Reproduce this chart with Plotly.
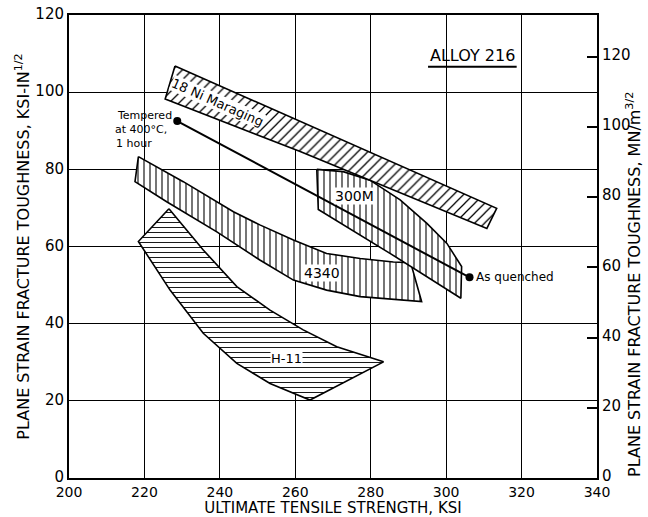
import plotly.graph_objects as go

# ---- data ----
x_ticks = [200, 220, 240, 260, 280, 300, 320, 340]
y_ticks = [0, 20, 40, 60, 80, 100, 120]
si_ticks = [0, 20, 40, 60, 80, 100, 120]
KSI_TO_SI = 1.0988  # 1 ksi*in^1/2 = 1.0988 MN/m^3/2

# 18 Ni Maraging band
mar_up_x = [228.1, 261.3, 313.4]
mar_up_y = [106.8, 92.4, 69.9]
mar_lo_x = [225.5, 261.3, 310.8]
mar_lo_y = [98.2, 84.6, 64.7]

# 300M band
m300_up_x = [265.7, 272.7, 279.8, 287.8, 294.9, 300.2, 304.1]
m300_up_y = [80.0, 79.4, 77.2, 72.1, 66.0, 60.8, 54.8]
m300_lo_x = [266.1, 285.0, 303.9]
m300_lo_y = [69.6, 58.3, 46.6]

# 4340 band
a4340_up_x = [218.4, 230.3, 243.6, 250.6, 259.5, 268.3, 277.2, 286.0, 290.6]
a4340_up_y = [83.3, 76.8, 69.0, 65.6, 61.7, 58.2, 56.9, 56.0, 55.8]
a4340_lo_x = [217.5, 225.9, 239.2, 250.6, 259.5, 268.3, 277.2, 293.5]
a4340_lo_y = [76.8, 71.6, 63.8, 56.5, 51.3, 48.7, 47.0, 45.7]

# H-11 band
h11_up_x = [226.5, 235.6, 244.5, 253.3, 262.1, 271.0, 283.4]
h11_up_y = [69.8, 59.1, 49.6, 43.5, 38.4, 34.0, 30.1]
h11_lo_x = [218.4, 226.8, 235.6, 244.5, 253.3, 263.9]
h11_lo_y = [61.3, 48.7, 37.5, 29.7, 24.5, 20.2]

# Alloy 216 line: tempered at 400 C -> as quenched
alloy_x = [228.7, 306.2]
alloy_y = [92.5, 52.0]

FONT = "DejaVu Sans"


def band(ux, uy, lx, ly, shape, size, name):
    xs = list(ux) + list(reversed(lx)) + [ux[0]]
    ys = list(uy) + list(reversed(ly)) + [uy[0]]
    return go.Scatter(
        x=xs, y=ys, mode="lines", fill="toself", name=name,
        line=dict(color="black", width=1.6),
        fillcolor="white",
        fillpattern=dict(shape=shape, fgcolor="black", bgcolor="white",
                         size=size, solidity=0.18, fillmode="replace"),
        showlegend=False, hoverinfo="skip",
    )


fig = go.Figure()
fig.add_trace(band(h11_up_x, h11_up_y, h11_lo_x, h11_lo_y, "-", 5, "H-11"))
fig.add_trace(band(a4340_up_x, a4340_up_y, a4340_lo_x, a4340_lo_y, "|", 6, "4340"))
fig.add_trace(band(m300_up_x, m300_up_y, m300_lo_x, m300_lo_y, "|", 6, "300M"))
fig.add_trace(band(mar_up_x, mar_up_y, mar_lo_x, mar_lo_y, "/", 7, "18 Ni Maraging"))
fig.add_trace(go.Scatter(
    x=alloy_x, y=alloy_y, mode="lines+markers",
    line=dict(color="black", width=2),
    marker=dict(color="black", size=8),
    showlegend=False, hoverinfo="skip",
))
# secondary (SI) axis carries the same line, converted (invisible)
fig.add_trace(go.Scatter(x=alloy_x, y=[v * KSI_TO_SI for v in alloy_y], yaxis="y2",
                         mode="lines", line=dict(color="rgba(0,0,0,0)", width=0),
                         showlegend=False, hoverinfo="skip"))

lbl_font = dict(family=FONT, size=14, color="black")
ann_font = dict(family=FONT, size=11, color="black")
annotations = [
    dict(x=239.4, y=97.3, text="18 Ni Maraging", textangle=24, showarrow=False,
         font=dict(family=FONT, size=13, color="black"), bgcolor="white", borderpad=0),
    dict(x=275.8, y=73.1, text="300M", showarrow=False, font=lbl_font,
         bgcolor="white", borderpad=0),
    dict(x=267.0, y=53.1, text="4340", showarrow=False, font=lbl_font,
         bgcolor="white", borderpad=0),
    dict(x=257.7, y=31.0, text="H-11", showarrow=False,
         font=dict(family=FONT, size=13, color="black"), bgcolor="white", borderpad=0),
    dict(x=219.9, y=94.0, text="Tempered", showarrow=False, font=ann_font),
    dict(x=219.2, y=90.3, text="at 400°C,", showarrow=False, font=ann_font),
    dict(x=217.2, y=86.6, text="1 hour", showarrow=False, font=ann_font),
    dict(x=307.5, y=52.0, text="As quenched", showarrow=False, xanchor="left",
         font=dict(family=FONT, size=12, color="black")),
    dict(x=306.9, y=109.5, text="ALLOY 216", showarrow=False,
         font=dict(family=FONT, size=16, color="black")),
    # right-hand (SI) axis title, placed as in the reference
    dict(xref="paper", yref="paper", x=1, y=0.417, xshift=37, textangle=-90,
         xanchor="center", yanchor="middle", showarrow=False,
         text="PLANE STRAIN FRACTURE TOUGHNESS, MN/m<sup>3/2</sup>",
         font=dict(family=FONT, size=16, color="black")),
]

fig.update_layout(
    width=648, height=517,
    margin=dict(l=69, r=51, t=15, b=39),
    paper_bgcolor="white", plot_bgcolor="white",
    font=dict(family=FONT, size=15, color="black"),
    annotations=annotations,
    shapes=[dict(type="line", xref="x", yref="y", x0=295.2, x1=318.7, y0=106.6, y1=106.6,
                 line=dict(color="black", width=2))],
    xaxis=dict(
        range=[200, 340], tickvals=x_ticks, ticks="", showgrid=True, automargin=False,
        gridcolor="black", gridwidth=1.2, showline=True, linecolor="black",
        linewidth=2, mirror=True, zeroline=False,
        title=dict(text="ULTIMATE TENSILE STRENGTH, KSI",
                   font=dict(family=FONT, size=15), standoff=1),
        tickfont=dict(family=FONT, size=14),
    ),
    yaxis=dict(
        range=[0, 120], tickvals=y_ticks, ticks="", showgrid=True, automargin=False,
        gridcolor="black", gridwidth=1.2, showline=True, linecolor="black",
        linewidth=2, mirror=True, zeroline=False, ticklabelshift=-1,
        title=dict(text="PLANE STRAIN FRACTURE TOUGHNESS, KSI-IN<sup>1/2</sup>",
                   font=dict(family=FONT, size=16), standoff=2),
        tickfont=dict(family=FONT, size=15),
    ),
    yaxis2=dict(
        range=[0, 120 * KSI_TO_SI], tickvals=si_ticks, overlaying="y", side="right",
        ticks="inside", ticklen=10, tickwidth=1.5, tickcolor="black", automargin=False,
        showgrid=False, zeroline=False, showline=True, linecolor="black", linewidth=2,
        ticklabelshift=-2,
        tickfont=dict(family=FONT, size=15),
    ),
)

# remove the browser's default 8px body margin so the figure sits at (0, 0)
fig.write_html("out.html", config={"displayModeBar": False},
               post_script="document.body.style.margin='0';document.body.style.padding='0';")
